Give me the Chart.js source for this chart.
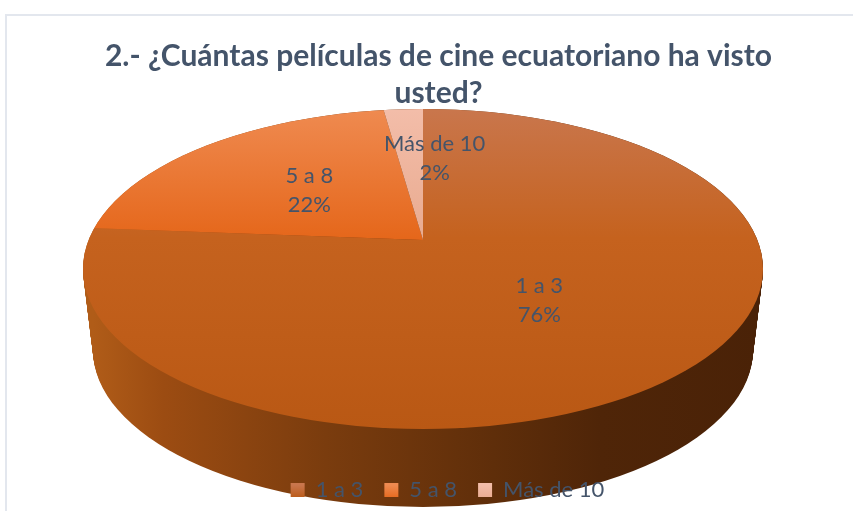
<!DOCTYPE html>
<html lang="es">
<head>
<meta charset="utf-8">
<title>Películas de cine ecuatoriano</title>
<script src="https://cdn.jsdelivr.net/npm/chart.js@4/dist/chart.umd.js"></script>
<style>
    html, body { margin: 0; padding: 0; background: #fff; overflow: hidden; }
    #marco { position: absolute; left: 5px; top: 14px; width: 848px; height: 497px; border-left: 2px solid #e3e7ee; border-top: 2px solid #e3e7ee; box-sizing: border-box; }
    canvas { position: absolute; left: 0; top: 0; }
</style>
</head>
<body>
<div id="marco"></div>
<canvas id="grafico" width="853" height="511"></canvas>
<script>
var titulo = ['2.- ¿Cuántas películas de cine ecuatoriano ha visto', 'usted?'];
var categorias = ['1 a 3', '5 a 8', 'Más de 10'];
var valores = [76.2, 21.5, 2.3];

var colorTexto = '#44546a';
var tramos = [
    ['#c9764c', '#c5621e', '#b95814'],
    ['#ef8a50', '#e5671b', '#e5671b'],
    ['#f3bda9', '#e9ab90', '#e9ab90']
];

// Geometría de la tapa y la base del pastel 3D (en píxeles de la página)
var vertice = { x: 423, y: 240 };
var tapa = { x: 423, y: 269, rx: 340, ry: 160 };
var base = { x: 423, y: 350, rx: 330, ry: 157 };
var aplastado = 0.48;
var alcance = 420;
var radioEtiqueta = [171, 150, 171];
var ajusteEtiqueta = [0, -4, 24];

function degradadoTapa(chart, colores) {
    var area = chart.chartArea;
    if (!area || area.height <= 0) return colores[1];
    var cy = (area.top + area.bottom) / 2;
    var r = Math.min(area.width, area.height) / 2;
    var ky = alcance * aplastado / r;
    var g = chart.ctx.createLinearGradient(0, cy + (110 - vertice.y) / ky, 0, cy + (430 - vertice.y) / ky);
    g.addColorStop(0, colores[0]);
    g.addColorStop(0.4, colores[1]);
    g.addColorStop(1, colores[2]);
    return g;
}

function degradadoLateral(ctx) {
    var g = ctx.createLinearGradient(93, 0, 760, 0);
    g.addColorStop(0, '#b05c18');
    g.addColorStop(0.105, '#9c4c12');
    g.addColorStop(0.35, '#7a3c0e');
    g.addColorStop(0.6, '#5f2e0a');
    g.addColorStop(0.76, '#4f2508');
    g.addColorStop(1, '#4a2207');
    return g;
}

var pastel3d = {
    id: 'pastel3d',
    beforeLayout: function (chart) {
        // título y leyenda por encima del pastel
        [chart.legend, chart.titleBlock].forEach(function (caja) {
            caja._layers = function () {
                return [{ z: 1, draw: function (area) { caja.draw(area); } }];
            };
        });
    },
    afterLayout: function (chart) {
        chart.legend.left += 9;
        chart.legend.right += 9;
    },
    beforeDatasetsDraw: function (chart) {
        var ctx = chart.ctx;
        var arco = chart.getDatasetMeta(0).data[0];
        var k = alcance / arco.outerRadius;

        // pared lateral
        ctx.save();
        ctx.fillStyle = degradadoLateral(ctx);
        for (var i = 80; i >= 0; i--) {
            var t = i / 80;
            ctx.beginPath();
            ctx.ellipse(tapa.x, tapa.y + (base.y - tapa.y) * t, tapa.rx + (base.rx - tapa.rx) * t, tapa.ry + (base.ry - tapa.ry) * t, 0, 0, Math.PI * 2);
            ctx.fill();
        }
        ctx.restore();

        // tapa: los sectores de Chart.js, aplastados y recortados a la elipse
        ctx.save();
        ctx.beginPath();
        ctx.ellipse(tapa.x, tapa.y, tapa.rx, tapa.ry, 0, 0, Math.PI * 2);
        ctx.clip();
        ctx.translate(vertice.x, vertice.y);
        ctx.scale(k, k * aplastado);
        ctx.translate(-arco.x, -arco.y);
    },
    afterDatasetsDraw: function (chart) {
        var ctx = chart.ctx;
        ctx.restore();

        ctx.save();
        ctx.font = '22px Lato';
        ctx.fillStyle = colorTexto;
        ctx.textAlign = 'center';
        ctx.textBaseline = 'middle';
        chart.getDatasetMeta(0).data.forEach(function (arco, i) {
            var medio = (arco.startAngle + arco.endAngle) / 2;
            var x = vertice.x + radioEtiqueta[i] * Math.cos(medio) + ajusteEtiqueta[i];
            var y = vertice.y + radioEtiqueta[i] * aplastado * Math.sin(medio);
            ctx.fillText(categorias[i], x, y - 14.5);
            ctx.fillText(Math.round(valores[i]) + '%', x, y + 14.5);
        });
        ctx.restore();
    }
};

var lienzo = document.getElementById('grafico');
new Chart(lienzo.getContext('2d'), {
    type: 'pie',
    data: {
        labels: categorias,
        datasets: [{
            data: valores,
            borderWidth: 0,
            clip: false,
            backgroundColor: function (c) {
                return degradadoTapa(c.chart, tramos[c.dataIndex]);
            }
        }]
    },
    options: {
        responsive: false,
        animation: false,
        layout: { padding: { left: 24, bottom: 0 } },
        plugins: {
            tooltip: { enabled: false },
            title: {
                display: true,
                text: titulo,
                color: colorTexto,
                font: { family: 'Lato', size: 30, weight: 'bold', lineHeight: 1.22 },
                padding: { top: 38, bottom: 10 }
            },
            legend: {
                position: 'bottom',
                labels: {
                    boxWidth: 14,
                    boxHeight: 14,
                    padding: 21,
                    color: colorTexto,
                    font: { family: 'Lato', size: 22 },
                    generateLabels: function (chart) {
                        return categorias.map(function (nombre, i) {
                            var g = chart.ctx.createLinearGradient(0, 485, 0, 499);
                            g.addColorStop(0, tramos[i][0]);
                            g.addColorStop(1, i === 0 ? tramos[i][2] : tramos[i][1]);
                            return { text: nombre, fillStyle: g, strokeStyle: 'transparent', lineWidth: 0, fontColor: colorTexto, index: i };
                        });
                    }
                }
            }
        }
    },
    plugins: [pastel3d]
});
</script>
</body>
</html>
